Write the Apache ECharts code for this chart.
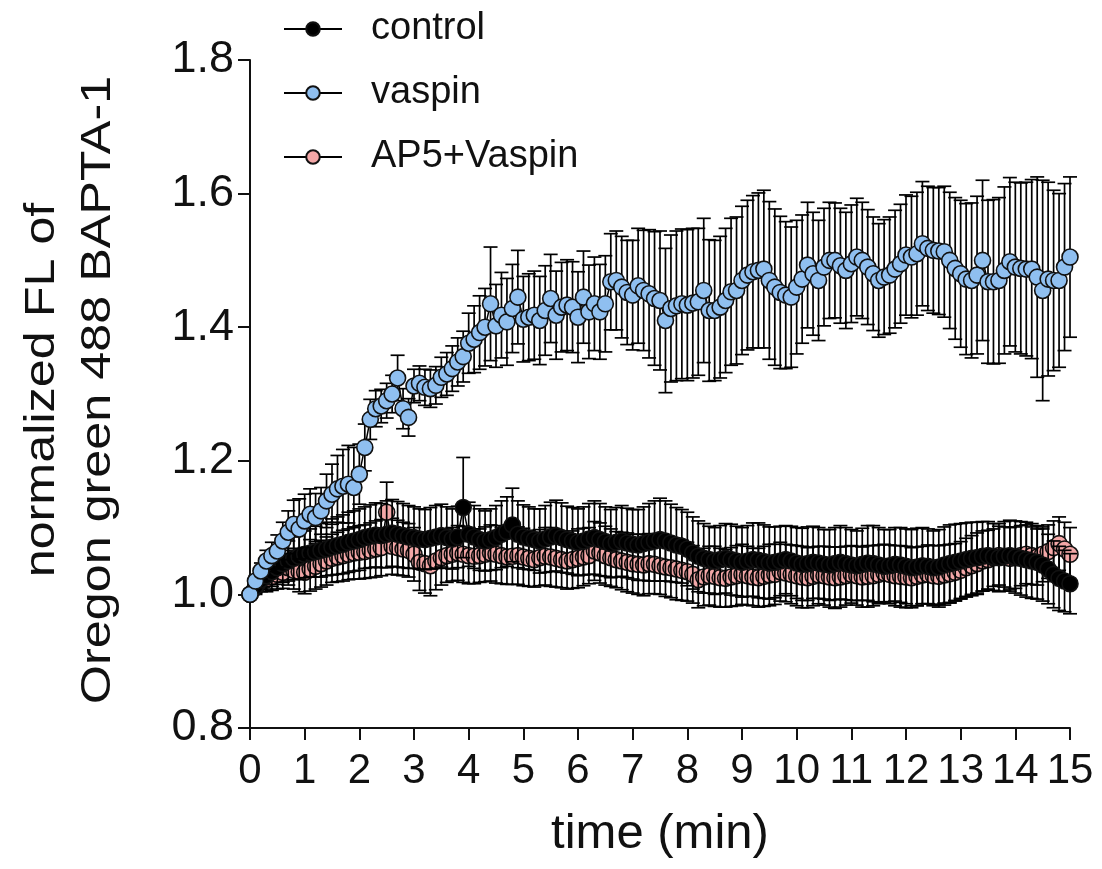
<!DOCTYPE html>
<html>
<head>
<meta charset="utf-8">
<script src="https://cdn.jsdelivr.net/npm/echarts@6/dist/echarts.min.js"></script>
<style>html,body{margin:0;padding:0;background:#fff}#c{width:1102px;height:869px}</style>
</head>
<body>
<div id="c"></div>
<script>
// ---- data (sampled every 0.1 min, 0..15 min) ----
const seriesNames = ['control', 'vaspin', 'AP5+Vaspin'];
const xTicks = [0,1,2,3,4,5,6,7,8,9,10,11,12,13,14,15];
const yTicks = [0.8,1.0,1.2,1.4,1.6,1.8];

const controlMean = [
1.000,1.012,1.022,1.028,1.034,1.040,1.046,1.050,1.054,1.057,
1.060,1.062,1.064,1.066,1.068,1.071,1.073,1.075,1.078,1.080,
1.082,1.085,1.087,1.089,1.088,1.090,1.092,1.090,1.088,1.086,
1.085,1.083,1.082,1.084,1.086,1.088,1.085,1.083,1.086,1.130,
1.090,1.086,1.082,1.080,1.082,1.085,1.090,1.094,1.104,1.090,
1.086,1.084,1.082,1.080,1.083,1.086,1.088,1.085,1.082,1.080,
1.078,1.080,1.083,1.085,1.082,1.079,1.076,1.078,1.080,1.077,
1.075,1.074,1.076,1.078,1.080,1.082,1.080,1.077,1.074,1.072,
1.068,1.062,1.057,1.054,1.052,1.050,1.052,1.054,1.052,1.050,
1.048,1.050,1.052,1.051,1.049,1.047,1.048,1.050,1.052,1.050,
1.047,1.045,1.046,1.048,1.047,1.045,1.044,1.046,1.048,1.046,
1.044,1.043,1.045,1.047,1.046,1.044,1.042,1.043,1.045,1.044,
1.042,1.040,1.041,1.043,1.042,1.040,1.041,1.044,1.046,1.048,
1.050,1.052,1.054,1.055,1.057,1.058,1.056,1.055,1.057,1.058,
1.056,1.054,1.052,1.050,1.048,1.044,1.038,1.030,1.024,1.020,
1.016];
const controlErr = [
0.005,0.010,0.015,0.020,0.022,0.025,0.028,0.030,0.032,0.034,
0.035,0.036,0.038,0.040,0.040,0.042,0.043,0.044,0.045,0.045,
0.046,0.046,0.047,0.048,0.048,0.050,0.050,0.049,0.048,0.047,
0.046,0.045,0.045,0.046,0.047,0.047,0.046,0.045,0.046,0.075,
0.048,0.047,0.046,0.045,0.046,0.048,0.050,0.052,0.055,0.050,
0.048,0.047,0.046,0.048,0.050,0.052,0.053,0.052,0.050,0.050,
0.050,0.051,0.053,0.055,0.054,0.052,0.051,0.052,0.053,0.052,
0.052,0.053,0.055,0.058,0.060,0.062,0.060,0.058,0.056,0.055,
0.055,0.054,0.053,0.052,0.050,0.050,0.051,0.052,0.053,0.052,
0.052,0.053,0.055,0.056,0.055,0.054,0.053,0.052,0.051,0.052,
0.053,0.054,0.055,0.054,0.053,0.052,0.053,0.054,0.055,0.054,
0.053,0.052,0.054,0.056,0.057,0.056,0.055,0.054,0.055,0.056,
0.056,0.057,0.058,0.057,0.056,0.055,0.056,0.057,0.058,0.057,
0.056,0.055,0.054,0.053,0.052,0.051,0.050,0.051,0.052,0.053,
0.054,0.055,0.056,0.056,0.055,0.054,0.052,0.050,0.048,0.046,
0.045];

const vaspinMean = [
1.000,1.020,1.035,1.050,1.058,1.065,1.080,1.093,1.105,1.098,
1.110,1.120,1.115,1.125,1.140,1.150,1.158,1.162,1.165,1.160,
1.180,1.220,1.262,1.278,1.282,1.290,1.300,1.324,1.278,1.265,
1.312,1.316,1.310,1.308,1.313,1.325,1.330,1.338,1.348,1.356,
1.376,1.382,1.392,1.400,1.435,1.402,1.418,1.408,1.428,1.445,
1.412,1.415,1.418,1.410,1.425,1.443,1.418,1.430,1.433,1.430,
1.415,1.445,1.423,1.435,1.423,1.435,1.468,1.470,1.460,1.452,
1.448,1.462,1.455,1.450,1.443,1.440,1.410,1.428,1.432,1.435,
1.433,1.436,1.438,1.455,1.425,1.425,1.430,1.440,1.453,1.455,
1.470,1.478,1.483,1.485,1.487,1.470,1.460,1.452,1.448,1.445,
1.460,1.472,1.493,1.480,1.470,1.490,1.500,1.500,1.492,1.485,
1.495,1.505,1.500,1.490,1.480,1.470,1.475,1.478,1.487,1.495,
1.508,1.505,1.510,1.525,1.518,1.515,1.514,1.513,1.500,1.488,
1.480,1.472,1.470,1.478,1.500,1.468,1.468,1.470,1.485,1.498,
1.490,1.488,1.487,1.487,1.475,1.455,1.472,1.470,1.470,1.490,
1.505];
const vaspinErr = [
0.005,0.008,0.012,0.016,0.020,0.024,0.028,0.032,0.036,0.045,
0.040,0.038,0.036,0.035,0.040,0.045,0.050,0.055,0.058,0.060,
0.045,0.035,0.030,0.027,0.025,0.026,0.028,0.034,0.030,0.028,
0.025,0.026,0.027,0.028,0.028,0.030,0.032,0.034,0.036,0.038,
0.045,0.050,0.055,0.058,0.085,0.062,0.064,0.065,0.066,0.070,
0.064,0.065,0.066,0.066,0.067,0.066,0.066,0.067,0.068,0.068,
0.068,0.069,0.070,0.070,0.071,0.072,0.072,0.074,0.076,0.078,
0.082,0.086,0.090,0.096,0.100,0.104,0.108,0.110,0.112,0.112,
0.113,0.112,0.110,0.108,0.106,0.105,0.106,0.108,0.110,0.110,
0.111,0.112,0.114,0.116,0.118,0.118,0.117,0.114,0.110,0.105,
0.100,0.096,0.094,0.092,0.090,0.088,0.087,0.086,0.086,0.087,
0.088,0.088,0.087,0.086,0.085,0.085,0.086,0.087,0.088,0.089,
0.090,0.091,0.092,0.093,0.093,0.094,0.095,0.098,0.102,0.106,
0.110,0.113,0.116,0.118,0.120,0.122,0.123,0.124,0.125,0.126,
0.127,0.128,0.130,0.134,0.150,0.165,0.145,0.135,0.130,0.125,
0.120];

const ap5Mean = [
1.000,1.010,1.018,1.022,1.026,1.030,1.033,1.040,1.036,1.034,
1.033,1.038,1.042,1.046,1.050,1.054,1.056,1.058,1.060,1.062,
1.063,1.064,1.066,1.068,1.070,1.123,1.072,1.070,1.068,1.066,
1.060,1.048,1.046,1.043,1.050,1.055,1.058,1.060,1.062,1.060,
1.058,1.057,1.058,1.060,1.062,1.060,1.058,1.056,1.057,1.058,
1.056,1.054,1.052,1.055,1.057,1.056,1.054,1.052,1.050,1.052,
1.054,1.056,1.058,1.065,1.062,1.058,1.055,1.052,1.050,1.048,
1.046,1.045,1.044,1.046,1.045,1.043,1.041,1.040,1.038,1.036,
1.034,1.030,1.022,1.026,1.028,1.027,1.025,1.024,1.026,1.028,
1.030,1.028,1.026,1.025,1.027,1.029,1.030,1.034,1.032,1.030,
1.028,1.026,1.025,1.027,1.029,1.028,1.026,1.025,1.026,1.028,
1.030,1.028,1.026,1.027,1.028,1.030,1.032,1.030,1.028,1.027,
1.026,1.025,1.027,1.029,1.030,1.028,1.027,1.029,1.031,1.033,
1.036,1.040,1.043,1.046,1.050,1.052,1.055,1.058,1.056,1.054,
1.055,1.058,1.060,1.058,1.056,1.060,1.064,1.070,1.076,1.068,
1.060];
const ap5Err = [
0.005,0.010,0.014,0.018,0.020,0.022,0.024,0.026,0.028,0.030,
0.032,0.033,0.034,0.035,0.036,0.036,0.037,0.038,0.038,0.039,
0.040,0.040,0.041,0.042,0.042,0.045,0.042,0.041,0.040,0.040,
0.040,0.042,0.044,0.045,0.043,0.041,0.040,0.040,0.041,0.042,
0.042,0.041,0.040,0.041,0.042,0.043,0.042,0.041,0.042,0.043,
0.043,0.042,0.041,0.042,0.043,0.044,0.043,0.042,0.042,0.043,
0.044,0.043,0.042,0.044,0.045,0.044,0.043,0.042,0.043,0.044,
0.044,0.045,0.046,0.045,0.044,0.043,0.044,0.045,0.046,0.045,
0.044,0.043,0.042,0.043,0.044,0.045,0.044,0.043,0.044,0.045,
0.045,0.044,0.043,0.044,0.045,0.046,0.045,0.044,0.043,0.044,
0.045,0.046,0.045,0.044,0.043,0.044,0.045,0.046,0.045,0.044,
0.043,0.044,0.045,0.046,0.045,0.044,0.043,0.044,0.045,0.046,
0.046,0.045,0.044,0.043,0.044,0.045,0.046,0.045,0.044,0.043,
0.043,0.044,0.045,0.046,0.045,0.044,0.043,0.044,0.045,0.046,
0.046,0.045,0.044,0.043,0.042,0.041,0.040,0.040,0.040,0.040,
0.040];

// sampling times (min)
const time = controlMean.map((_, i) => i / 10);

const FONT = "'Liberation Sans', Arial, sans-serif";
const fills = { 'control': '#000000', 'vaspin': '#8fbff0', 'AP5+Vaspin': '#f3a7a7' };

function pts(mean) { return mean.map((v, i) => [time[i], v]); }
function errs(mean, err) { return mean.map((v, i) => [time[i], v - err[i], v + err[i]]); }

function errorSeries(name, mean, err, z) {
  return {
    type: 'custom',
    name: name + ' SEM',
    z: z,
    silent: true,
    legendHoverLink: false,
    data: errs(mean, err),
    encode: { x: 0, y: [1, 2] },
    renderItem: function (params, api) {
      const x = api.value(0);
      const lo = api.coord([x, api.value(1)]);
      const hi = api.coord([x, api.value(2)]);
      const cap = 7;
      const st = { stroke: '#000', lineWidth: 1.7 };
      return {
        type: 'group',
        children: [
          { type: 'line', shape: { x1: lo[0], y1: lo[1], x2: hi[0], y2: hi[1] }, style: st },
          { type: 'line', shape: { x1: hi[0] - cap, y1: hi[1], x2: hi[0] + cap, y2: hi[1] }, style: st },
          { type: 'line', shape: { x1: lo[0] - cap, y1: lo[1], x2: lo[0] + cap, y2: lo[1] }, style: st }
        ]
      };
    }
  };
}

function lineSeries(name, mean, z) {
  return {
    type: 'line',
    name: name,
    z: z,
    data: pts(mean),
    symbol: 'circle',
    symbolSize: 16,
    showAllSymbol: true,
    animation: false,
    lineStyle: { color: '#000', width: 1.5 },
    itemStyle: { color: fills[name], borderColor: '#111', borderWidth: 1.6 },
    emphasis: { disabled: true }
  };
}

const chart = echarts.init(document.getElementById('c'), null, { renderer: 'canvas' });
chart.setOption({
  animation: false,
  backgroundColor: '#fff',
  grid: { left: 250, right: 32, top: 60, bottom: 141, containLabel: false },
  legend: {
    data: seriesNames,
    orient: 'vertical',
    left: 278,
    top: 5,
    itemWidth: 58,
    itemHeight: 17,
    itemGap: 26,
    textStyle: { fontSize: 38, color: '#111', fontFamily: FONT, padding: [0, 0, 0, 24] }
  },
  xAxis: {
    type: 'value',
    min: 0, max: 15, interval: 1,
    name: 'time (min)',
    nameLocation: 'middle',
    nameGap: 82,
    nameTextStyle: { fontSize: 49, color: '#111', fontFamily: FONT },
    axisLine: { lineStyle: { color: '#111', width: 2 } },
    axisTick: { length: 12, lineStyle: { color: '#111', width: 2 } },
    axisLabel: { fontSize: 42, color: '#111', fontFamily: FONT, margin: 22,
      formatter: v => xTicks.includes(v) ? String(v) : '' },
    splitLine: { show: false }
  },
  yAxis: {
    type: 'value',
    min: 0.8, max: 1.8, interval: 0.2,
    axisLine: { show: true, lineStyle: { color: '#111', width: 2 } },
    axisTick: { show: true, length: 12, lineStyle: { color: '#111', width: 2 } },
    axisLabel: { fontSize: 45, color: '#111', fontFamily: FONT, margin: 16,
      formatter: v => yTicks.some(t => Math.abs(t - v) < 1e-6) ? v.toFixed(1) : '' },
    splitLine: { show: false }
  },
  graphic: [{
    type: 'text',
    x: 70, y: 390,
    rotation: Math.PI / 2,
    scaleX: 1.17,
    style: {
      text: 'normalized FL of\nOregon green 488 BAPTA-1',
      align: 'center', verticalAlign: 'middle',
      fontSize: 43, lineHeight: 56, fill: '#111', fontFamily: FONT
    }
  }],
  series: [
    errorSeries('AP5+Vaspin', ap5Mean, ap5Err, 1),
    lineSeries('AP5+Vaspin', ap5Mean, 2),
    errorSeries('control', controlMean, controlErr, 3),
    lineSeries('control', controlMean, 4),
    errorSeries('vaspin', vaspinMean, vaspinErr, 5),
    lineSeries('vaspin', vaspinMean, 6)
  ]
});
</script>
</body>
</html>
